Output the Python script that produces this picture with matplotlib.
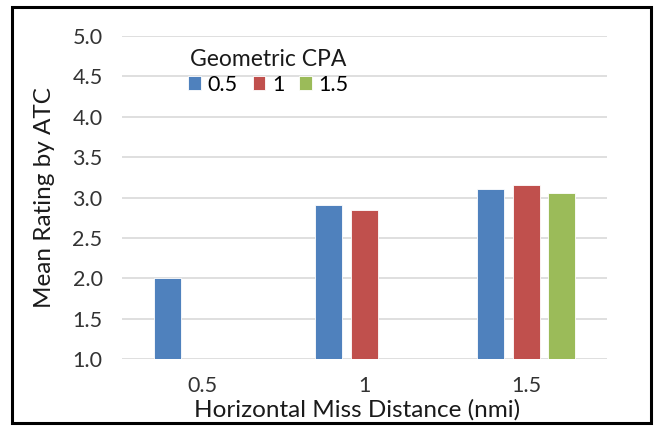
import matplotlib
matplotlib.use("Agg")
import matplotlib.pyplot as plt
from matplotlib.patches import Rectangle
import numpy as np

categories = ["0.5", "1", "1.5"]
series_names = ["0.5", "1", "1.5"]
values_05 = [2.0, 2.91, 3.10]
values_1 = [np.nan, 2.85, 3.15]
values_15 = [np.nan, np.nan, 3.05]
y_ticks = [1.0, 1.5, 2.0, 2.5, 3.0, 3.5, 4.0, 4.5, 5.0]

colors = ["#4F81BD", "#C0504D", "#9BBB59"]
plt.rcParams['font.family'] = ['Lato', 'DejaVu Sans']

W, H = 654, 426
fig = plt.figure(figsize=(W/100, H/100), dpi=100)
ax = fig.add_axes([122/W, (H-359)/H, (607-122)/W, (359-36)/H])

x = np.arange(len(categories))
width = 0.167
offset = 0.22
all_vals = [values_05, values_1, values_15]
for i, (vals, name, c) in enumerate(zip(all_vals, series_names, colors)):
    ax.bar(x + (i-1)*offset, vals, width, color=c, label=name,
           edgecolor="white", linewidth=0.6, zorder=3)

ax.set_xlim(-0.5, 2.5)
ax.set_ylim(1, 5)
ax.set_yticks(y_ticks)
ax.set_yticklabels([f"{v:.1f}" for v in y_ticks])
ax.set_xticks(x)
ax.set_xticklabels(categories)
ax.grid(axis='y', color='#d9d9d9', linewidth=1.2, zorder=0)
ax.set_axisbelow(True)
for s in ax.spines.values():
    s.set_visible(False)
ax.tick_params(axis='both', length=0, labelsize=15.5, colors='#333333')
ax.tick_params(axis='y', pad=14)
ax.tick_params(axis='x', pad=12)
ax.set_xlabel("Horizontal Miss Distance (nmi)", fontsize=17.5, color='#1a1a1a')
ax.xaxis.set_label_coords(0.485, (359-410)/323)
ax.xaxis.label.set_va('center')
ax.set_ylabel("Mean Rating by ATC", fontsize=17.5, color='#1a1a1a')
ax.yaxis.set_label_coords((45-122)/485, 0.5)
ax.yaxis.label.set_va('center')

leg = ax.legend(title="Geometric CPA", ncol=3, frameon=False,
                loc='upper left', bbox_to_anchor=(0.105, 1.005),
                fontsize=15.5, title_fontsize=16.5,
                handlelength=0.6, handleheight=0.6, handletextpad=0.3,
                columnspacing=0.7, borderpad=0.2, labelspacing=0.2)
leg.get_title().set_color('#1a1a1a')

fig.patches.append(Rectangle((12/W, 3/H), (651-12)/W, (419-3)/H, transform=fig.transFigure,
                             fill=False, edgecolor='black', linewidth=2.2))

fig.savefig("out.png", dpi=100)
